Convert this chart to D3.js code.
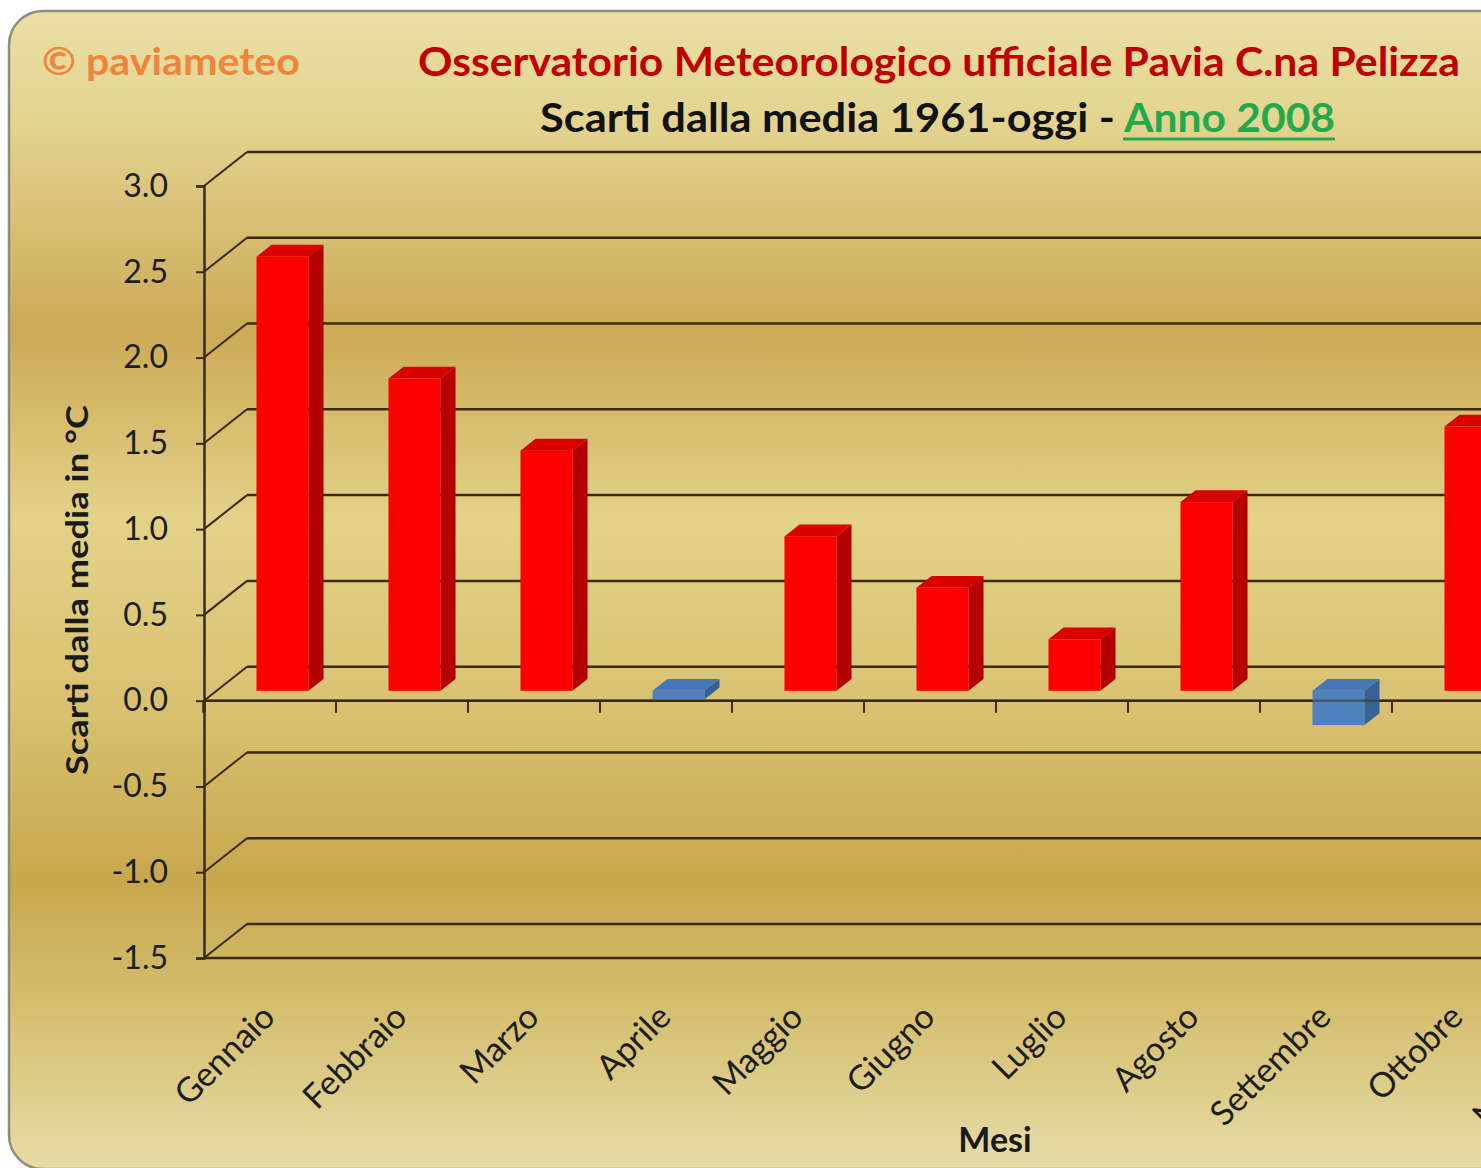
<!DOCTYPE html>
<html>
<head>
<meta charset="utf-8">
<script src="https://cdn.jsdelivr.net/npm/d3@7"></script>
<style>
  body { margin: 0; background: #fff; overflow: hidden; }
  svg { display: block; font-family: Lato, 'Open Sans', sans-serif; }
</style>
</head>
<body>
<div id="chart"></div>
<script>
// Data (Novembre / Dicembre fall outside the visible area)
const months = ['Gennaio', 'Febbraio', 'Marzo', 'Aprile', 'Maggio', 'Giugno',
  'Luglio', 'Agosto', 'Settembre', 'Ottobre', 'Novembre', 'Dicembre'];
const scarti = [2.53, 1.82, 1.4, -0.05, 0.9, 0.6, 0.3, 1.1, -0.2, 1.54, null, null];
const yTicks = [-1.5, -1.0, -0.5, 0.0, 0.5, 1.0, 1.5, 2.0, 2.5, 3.0];

const width = 1481, height = 1168;

const svg = d3.select('#chart').append('svg')
    .attr('width', width)
    .attr('height', height);

const defs = svg.append('defs');
const bg = defs.append('linearGradient')
    .attr('id', 'bg')
    .attr('gradientUnits', 'userSpaceOnUse')
    .attr('x1', 0).attr('y1', 12).attr('x2', 0).attr('y2', 1168);
[[12, '#e9dfa5'], [120, '#e3d490'], [330, '#ccaa56'], [520, '#e3d288'],
 [700, '#d9c272'], [880, '#c8a84e'], [1010, '#d5bf70'], [1168, '#e6dca6']]
  .forEach(([y, c]) => bg.append('stop').attr('offset', (y - 12) / 1156).attr('stop-color', c));

// chart area background (rounded, continues past the right edge)
svg.append('rect')
    .attr('x', 9).attr('y', 11)
    .attr('width', 1700).attr('height', 1158)
    .attr('rx', 34)
    .attr('fill', 'url(#bg)')
    .attr('stroke', '#8f8c7c')
    .attr('stroke-width', 2.5);

// scales
const x = d3.scaleBand()
    .domain(months)
    .range([204, 204 + 132 * months.length])
    .padding(0);

const y = d3.scaleLinear()
    .domain([-1.5, 3.0])
    .range([958, 186]);

// depth of the 3D box and of the bars
const depthX = 43, depthY = 34;
const d0 = 0.29, d1 = 0.64;
const barW = 52;
const gridColor = '#3b2a10';
const xEnd = x.range()[1];

// back wall gridlines + side wall diagonals
const grid = svg.append('g');
yTicks.forEach(v => {
  grid.append('line')
      .attr('x1', 204 + depthX).attr('y1', y(v) - depthY)
      .attr('x2', xEnd + depthX).attr('y2', y(v) - depthY)
      .attr('stroke', gridColor).attr('stroke-width', 2.5);
  grid.append('line')
      .attr('x1', 204).attr('y1', y(v))
      .attr('x2', 204 + depthX).attr('y2', y(v) - depthY)
      .attr('stroke', gridColor).attr('stroke-width', 2);
});

// floor front edge
svg.append('line')
    .attr('x1', 204).attr('y1', y(-1.5))
    .attr('x2', xEnd).attr('y2', y(-1.5))
    .attr('stroke', gridColor).attr('stroke-width', 2.5);

// category axis line (under the bars)
svg.append('line')
    .attr('x1', 204).attr('y1', y(0))
    .attr('x2', xEnd).attr('y2', y(0))
    .attr('stroke', gridColor).attr('stroke-width', 2.5);

// bars
const colors = {
  pos: { front: '#ff0000', top: '#d90000', side: '#b50000' },
  neg: { front: '#4f81bd', top: '#4677b7', side: '#386196' }
};
const bars = svg.append('g');
months.forEach((m, i) => {
  const v = scarti[i];
  if (v === null) return;
  const c = v >= 0 ? colors.pos : colors.neg;
  const fx = x(m) + (x.bandwidth() - barW) / 2 + d0 * depthX;
  const yt = y(Math.max(v, 0)) - d0 * depthY;
  const yb = y(Math.min(v, 0)) - d0 * depthY;
  const dx = (d1 - d0) * depthX, dy = (d1 - d0) * depthY;
  const g = bars.append('g');
  g.append('rect')
      .attr('x', fx).attr('y', yt)
      .attr('width', barW).attr('height', yb - yt)
      .attr('fill', c.front);
  g.append('polygon')
      .attr('points', [[fx, yt], [fx + barW, yt], [fx + barW + dx, yt - dy], [fx + dx, yt - dy]].join(' '))
      .attr('fill', c.top);
  g.append('polygon')
      .attr('points', [[fx + barW, yt], [fx + barW + dx, yt - dy], [fx + barW + dx, yb - dy], [fx + barW, yb]].join(' '))
      .attr('fill', c.side);
});

// category axis over the bars (semi transparent where it crosses them)
svg.append('line')
    .attr('x1', 204).attr('y1', y(0))
    .attr('x2', xEnd).attr('y2', y(0))
    .attr('stroke', gridColor).attr('stroke-opacity', 0.45).attr('stroke-width', 2.5);

// category tick marks at band boundaries
svg.append('g').selectAll('line')
    .data(d3.range(months.length + 1))
    .enter().append('line')
    .attr('x1', i => 204 + i * x.step())
    .attr('x2', i => 204 + i * x.step())
    .attr('y1', y(0))
    .attr('y2', y(0) + 12)
    .attr('stroke', gridColor)
    .attr('stroke-width', i => i === 0 ? 3.5 : 2);

// value axis
const yAxis = svg.append('g')
    .attr('transform', 'translate(204,0)')
    .call(d3.axisLeft(y)
      .tickValues(yTicks)
      .tickSize(8)
      .tickPadding(28)
      .tickFormat(d => d.toFixed(1)));
yAxis.select('.domain').attr('stroke', gridColor).attr('stroke-width', 2.5);
yAxis.selectAll('.tick line').attr('stroke', gridColor).attr('stroke-width', 2);
yAxis.selectAll('.tick text')
    .attr('font-family', 'Lato, sans-serif')
    .attr('font-size', 32)
    .attr('fill', '#1e1e1e');

// month labels
svg.append('g').selectAll('text')
    .data(months)
    .enter().append('text')
    .attr('transform', d => `translate(${x(d) + x.bandwidth() / 2 + 7},1019) rotate(-45)`)
    .attr('text-anchor', 'end')
    .attr('font-size', 34)
    .attr('fill', '#1e1e1e')
    .text(d => d);

// axis titles
svg.append('text')
    .attr('transform', 'translate(88,590) rotate(-90)')
    .attr('text-anchor', 'middle')
    .attr('font-size', 31)
    .attr('font-weight', 'bold')
    .attr('textLength', 370)
    .attr('lengthAdjust', 'spacingAndGlyphs')
    .attr('fill', '#1a1a1a')
    .text('Scarti dalla media in °C');

svg.append('text')
    .attr('x', 995).attr('y', 1152)
    .attr('text-anchor', 'middle')
    .attr('font-size', 34)
    .attr('font-weight', 'bold')
    .attr('fill', '#1a1a1a')
    .text('Mesi');

// titles
svg.append('text')
    .attr('x', 42).attr('y', 75)
    .attr('font-size', 38)
    .attr('font-weight', 'bold')
    .attr('textLength', 258)
    .attr('lengthAdjust', 'spacingAndGlyphs')
    .attr('fill', '#f0843c')
    .text('© paviameteo');

svg.append('text')
    .attr('x', 418).attr('y', 76)
    .attr('font-size', 41)
    .attr('font-weight', 'bold')
    .attr('textLength', 1042)
    .attr('lengthAdjust', 'spacingAndGlyphs')
    .attr('fill', '#c00000')
    .text('Osservatorio Meteorologico ufficiale Pavia C.na Pelizza');

svg.append('text')
    .attr('x', 540).attr('y', 132)
    .attr('font-size', 41)
    .attr('font-weight', 'bold')
    .attr('textLength', 575)
    .attr('lengthAdjust', 'spacingAndGlyphs')
    .attr('fill', '#111')
    .text('Scarti dalla media 1961-oggi -');

svg.append('text')
    .attr('x', 1124).attr('y', 132)
    .attr('font-size', 41)
    .attr('font-weight', 'bold')
    .attr('textLength', 211)
    .attr('lengthAdjust', 'spacingAndGlyphs')
    .attr('fill', '#24a84c')
    .text('Anno 2008');

svg.append('line')
    .attr('x1', 1123).attr('y1', 139)
    .attr('x2', 1335).attr('y2', 139)
    .attr('stroke', '#24a84c')
    .attr('stroke-width', 3);
</script>
</body>
</html>
